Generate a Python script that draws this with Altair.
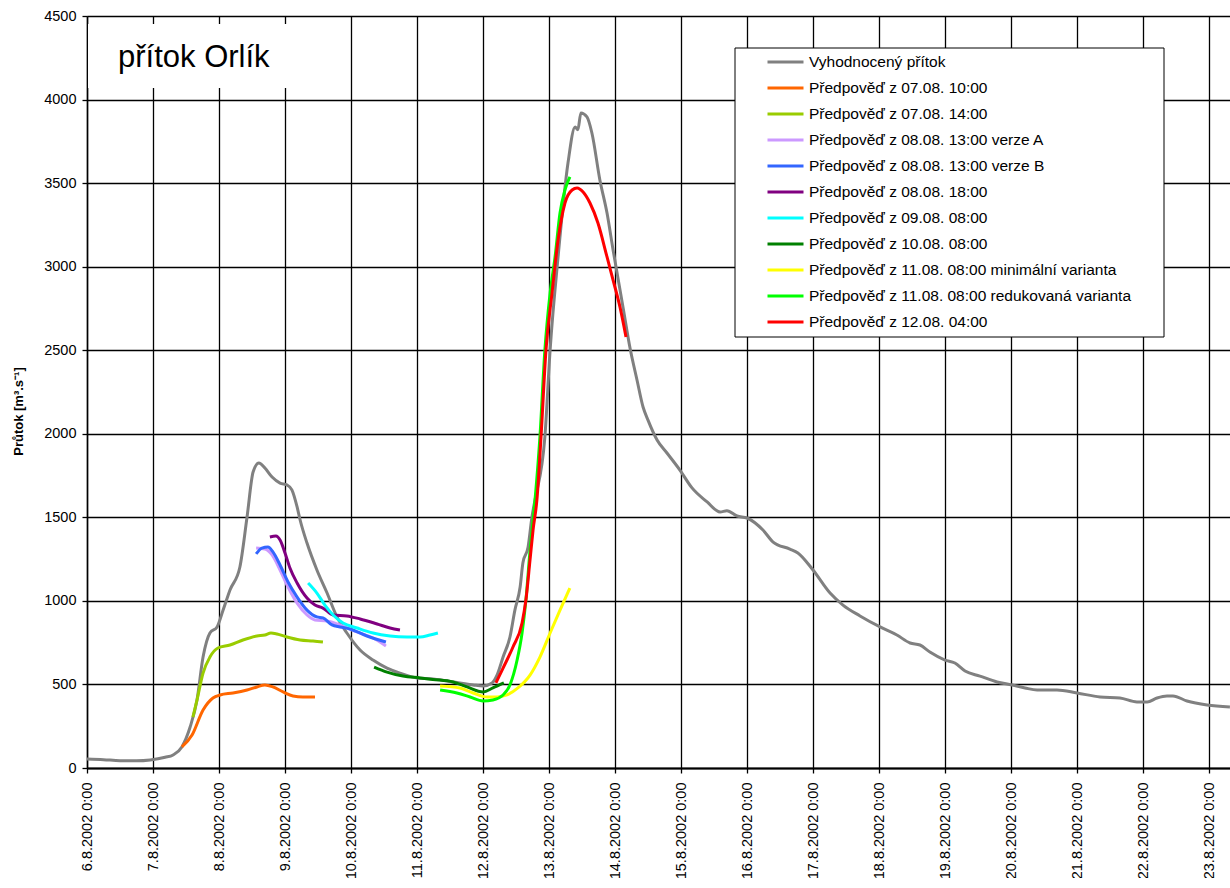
import altair as alt
import pandas as pd

# ---------------- data (hours after 6.8.2002 0:00, flow m3/s) ----------------
SERIES = [
    "Vyhodnocený přítok",
    "Předpověď z 07.08. 10:00",
    "Předpověď z 07.08. 14:00",
    "Předpověď z 08.08. 13:00 verze A",
    "Předpověď z 08.08. 13:00 verze B",
    "Předpověď z 08.08. 18:00",
    "Předpověď z 09.08. 08:00",
    "Předpověď z 10.08. 08:00",
    "Předpověď z 11.08. 08:00 minimální varianta",
    "Předpověď z 11.08. 08:00 redukovaná varianta",
    "Předpověď z 12.08. 04:00",
]
COLORS = ["#808080", "#FF6600", "#99CC00", "#CC99FF", "#3366FF", "#800080",
          "#00FFFF", "#008000", "#FFFF00", "#00FF00", "#FF0000"]

obs_h = [0, 6, 12, 18, 23, 28.4, 31.3, 34.5, 37.5, 40.0, 42.2, 44.7, 47.3, 49.5, 52.0,
         55.6, 58.2, 60.4, 62.5, 64.7, 67.3, 70.2, 72.7, 74.5, 76.4, 77.5, 80.0, 83.6,
         87.3, 90.9, 94.5, 99.3, 104.0, 109.1, 113.8, 120.0, 125.8, 128.4, 132.0, 140.4,
         144.0, 147.3, 149.1, 151.3, 153.8, 155.6, 157.5, 158.5, 160.4, 161.8, 162.9,
         166.5, 168.4, 171.3, 174.9, 177.5, 178.5, 179.6, 181.8, 183.6, 186.5, 189.1,
         191.3, 194.9, 197.5, 200.0, 202.2, 204.0, 207.3, 210.9, 215.6, 220.0, 225.5,
         230.2, 232.7, 236.4, 240.0, 245.8, 249.5, 255.6, 258.5, 264.0, 270.2, 274.9,
         281.1, 288.4, 294.5, 299.3, 302.9, 306.5, 312.0, 315.6, 319.3, 324.7, 330.9,
         336.4, 341.1, 345.5, 352.7, 360.0, 368.4, 375.6, 381.8, 385.5, 389.1, 392.7,
         394.9, 400.0, 407.3, 415.6]
obs_v = [54, 50, 44, 43, 48, 64, 78, 126, 245, 407, 664, 808, 844, 945, 1065,
         1203, 1502, 1771, 1825, 1795, 1741, 1705, 1694, 1664, 1562, 1484, 1346, 1185,
         1047, 904, 808, 706, 646, 598, 568, 539, 533, 528, 518, 497,
         491, 509, 556, 664, 784, 945, 1083, 1227, 1322, 1502, 1604,
         1981, 2501, 3058, 3620, 3836, 3820, 3920, 3896, 3800, 3519, 3321,
         3100, 2759, 2510, 2322, 2160, 2082, 1963, 1885, 1783, 1676, 1592,
         1532, 1540, 1508, 1496, 1424, 1352, 1310, 1287, 1185, 1047, 975,
         910, 844, 796, 748, 736, 694, 646, 628, 580, 550, 515,
         497, 479, 467, 467, 449, 425, 419, 395, 395, 419, 431,
         431, 401, 377, 365]

f1_h = [34.5, 38.2, 42.2, 45.8, 48.4, 53.1, 58.2, 61.8, 64.7, 67.6, 71.3, 74.9, 78.5, 82.9]
f1_v = [126, 197, 347, 419, 437, 449, 467, 485, 497, 485, 455, 431, 425, 425]

f2_h = [38.5, 40.0, 42.2, 44.7, 47.6, 52.0, 56.7, 61.8, 64.7, 66.9, 69.1, 72.7, 77.5, 82.2, 85.8]
f2_v = [305, 407, 568, 664, 718, 736, 766, 790, 796, 808, 802, 784, 766, 760, 754]

f3_h = [61.5, 64.7, 67.3, 70.2, 73.1, 76.4, 80.0, 82.9, 87.3, 92.0, 98.2, 104.0, 108.7]
f3_v = [1316, 1310, 1275, 1185, 1083, 987, 916, 886, 880, 856, 814, 778, 730]

f4_h = [61.5, 63.6, 65.8, 67.6, 70.2, 73.1, 76.4, 80.0, 83.6, 85.8, 89.1, 92.0, 95.6, 101.8, 108.7]
f4_v = [1281, 1316, 1322, 1293, 1215, 1113, 1023, 945, 904, 898, 856, 844, 832, 790, 754]

f5_h = [66.5, 68.7, 70.2, 72.0, 73.8, 76.4, 80.0, 82.9, 85.8, 89.5, 94.5, 99.3, 105.5, 110.2, 113.8]
f5_v = [1382, 1388, 1364, 1287, 1197, 1107, 1017, 975, 957, 916, 910, 892, 862, 838, 826]

f6_h = [80.4, 83.6, 86.5, 89.5, 93.1, 98.2, 104.0, 110.2, 116.4, 121.1, 124.7, 127.6]
f6_v = [1107, 1047, 975, 916, 868, 838, 808, 790, 784, 784, 796, 808]

f7_h = [104.4, 109.1, 114.9, 121.1, 125.8, 133.1, 138.2, 144.0, 147.6, 151.6]
f7_v = [604, 574, 550, 539, 530, 515, 485, 455, 479, 509]

f8_h = [128.4, 135.6, 140.4, 145.5, 149.1, 152.7, 156.7, 161.1, 164.7, 168.4, 172.0, 175.6]
f8_v = [491, 479, 449, 425, 425, 437, 479, 556, 664, 808, 945, 1077]

f9_h = [128.4, 134.5, 139.3, 144.0, 147.6, 151.3, 153.8, 156.4, 158.2, 159.6, 161.1,
        162.9, 164.7, 166.5, 168.4, 170.2, 172.0, 173.8, 175.6]
f9_v = [467, 449, 425, 401, 407, 437, 497, 646, 808, 1005, 1300,
        1600, 1981, 2501, 2842, 3058, 3321, 3459, 3537]

f10_h = [148.7, 151.3, 154.9, 158.2, 159.6, 161.1, 162.2, 163.6, 165.1, 166.9, 169.1,
         171.3, 173.8, 176.4, 178.2, 180.4, 182.9, 185.8, 189.1, 191.3, 193.8, 196.0]
f10_v = [509, 598, 724, 868, 1005, 1245, 1424, 1604, 1981, 2501, 2842,
         3160, 3381, 3459, 3471, 3447, 3381, 3261, 3058, 2920, 2759, 2579]

Y_TICKS = [0, 500, 1000, 1500, 2000, 2500, 3000, 3500, 4000, 4500]
X_TICK_DAYS = [6, 7, 8, 9, 10, 11, 12, 13, 14, 15, 16, 17, 18, 19, 20, 21, 22, 23]

# ---------------- build table ----------------
all_h = [obs_h, f1_h, f2_h, f3_h, f4_h, f5_h, f6_h, f7_h, f8_h, f9_h, f10_h]
all_v = [obs_v, f1_v, f2_v, f3_v, f4_v, f5_v, f6_v, f7_v, f8_v, f9_v, f10_v]
start = pd.Timestamp("2002-08-06 00:00")
rows = []
for k, (hs, vs) in enumerate(zip(all_h, all_v)):
    for i, (h, v) in enumerate(zip(hs, vs)):
        rows.append({"series": SERIES[k], "order": k, "idx": i,
                     "t": start + pd.Timedelta(hours=h), "q": v})
df = pd.DataFrame(rows)

FONT = "Liberation Sans"

x_enc = alt.X(
    "t:T",
    scale=alt.Scale(domain=[alt.DateTime(year=2002, month=8, date=6, hours=0),
                            alt.DateTime(year=2002, month=8, date=23, hours=7, minutes=38)]),
    axis=alt.Axis(
        values=[alt.DateTime(year=2002, month=8, date=d, hours=0) for d in X_TICK_DAYS],
        format="%-d.%-m.%Y %-H:%M", labelAngle=270, labelAlign="right",
        labelBaseline="middle", labelPadding=9, tickSize=5, title=None,
        grid=True, gridColor="#000000", gridWidth=1.3, gridOpacity=1,
        domainColor="#000000", domainWidth=2, tickColor="#000000", tickWidth=1.3,
        labelFont=FONT, labelFontSize=14.5, labelColor="#000000", labelOverlap=False,
    ),
)
y_enc = alt.Y(
    "q:Q",
    scale=alt.Scale(domain=[0, 4500], nice=False),
    axis=alt.Axis(
        values=Y_TICKS, format="d", title="Průtok [m³.s⁻¹]", titleFont=FONT, titleFontSize=13,
        titleFontWeight="bold", titleColor="#000000", titleX=-62, titleY=395,
        titleAngle=270, titleAlign="center", titleBaseline="bottom",
        grid=True, gridColor="#000000", gridWidth=1.3, gridOpacity=1,
        domainColor="#000000", domainWidth=1.5, tickColor="#000000", tickSize=5,
        tickWidth=1.3, labelPadding=6, labelFont=FONT, labelFontSize=14.5,
        labelColor="#000000",
    ),
)
color_enc = alt.Color(
    "series:N",
    scale=alt.Scale(domain=SERIES, range=COLORS),
    legend=alt.Legend(
        title=None, orient="none", legendX=679, legendY=33, padding=0,
        symbolType="stroke", symbolSize=1296, symbolStrokeWidth=3,
        clipHeight=26, rowPadding=0, labelOffset=4, labelFont=FONT,
        labelFontSize=15.5, labelColor="#000000", labelLimit=500,
    ),
)

base = alt.Chart(df)
obs_line = base.transform_filter(alt.datum.order == 0).mark_line(
    strokeWidth=3, interpolate="monotone", clip=True
).encode(x=x_enc, y=y_enc, color=color_enc, order="idx:Q", detail="series:N")

fc_line = base.transform_filter(alt.datum.order > 0).mark_line(
    strokeWidth=3, interpolate="monotone", clip=True
).encode(x=x_enc, y=y_enc, color=color_enc, order="idx:Q", detail="series:N")

one = pd.DataFrame({"a": [0]})
title_box = alt.Chart(one).mark_rect(fill="white", stroke=None).encode(
    x=alt.value(1), x2=alt.value(203), y=alt.value(8), y2=alt.value(72))
title_text = alt.Chart(one).mark_text(
    text="přítok Orlík", font=FONT, fontSize=31, align="left",
    baseline="alphabetic", color="#000000"
).encode(x=alt.value(31), y=alt.value(51))
legend_box = alt.Chart(one).mark_rect(fill="white", stroke="#000000", strokeWidth=1).encode(
    x=alt.value(648), x2=alt.value(1077), y=alt.value(32), y2=alt.value(321))

chart = alt.layer(title_box, title_text, legend_box, obs_line, fc_line).properties(
    width=1143, height=752,
    autosize=alt.AutoSizeParams(type="none"),
    padding={"left": 87, "top": 16, "right": 0, "bottom": 110},
    background="white",
).configure_view(stroke=None)

chart.save("out.html", embed_options={"renderer": "svg", "actions": False})
